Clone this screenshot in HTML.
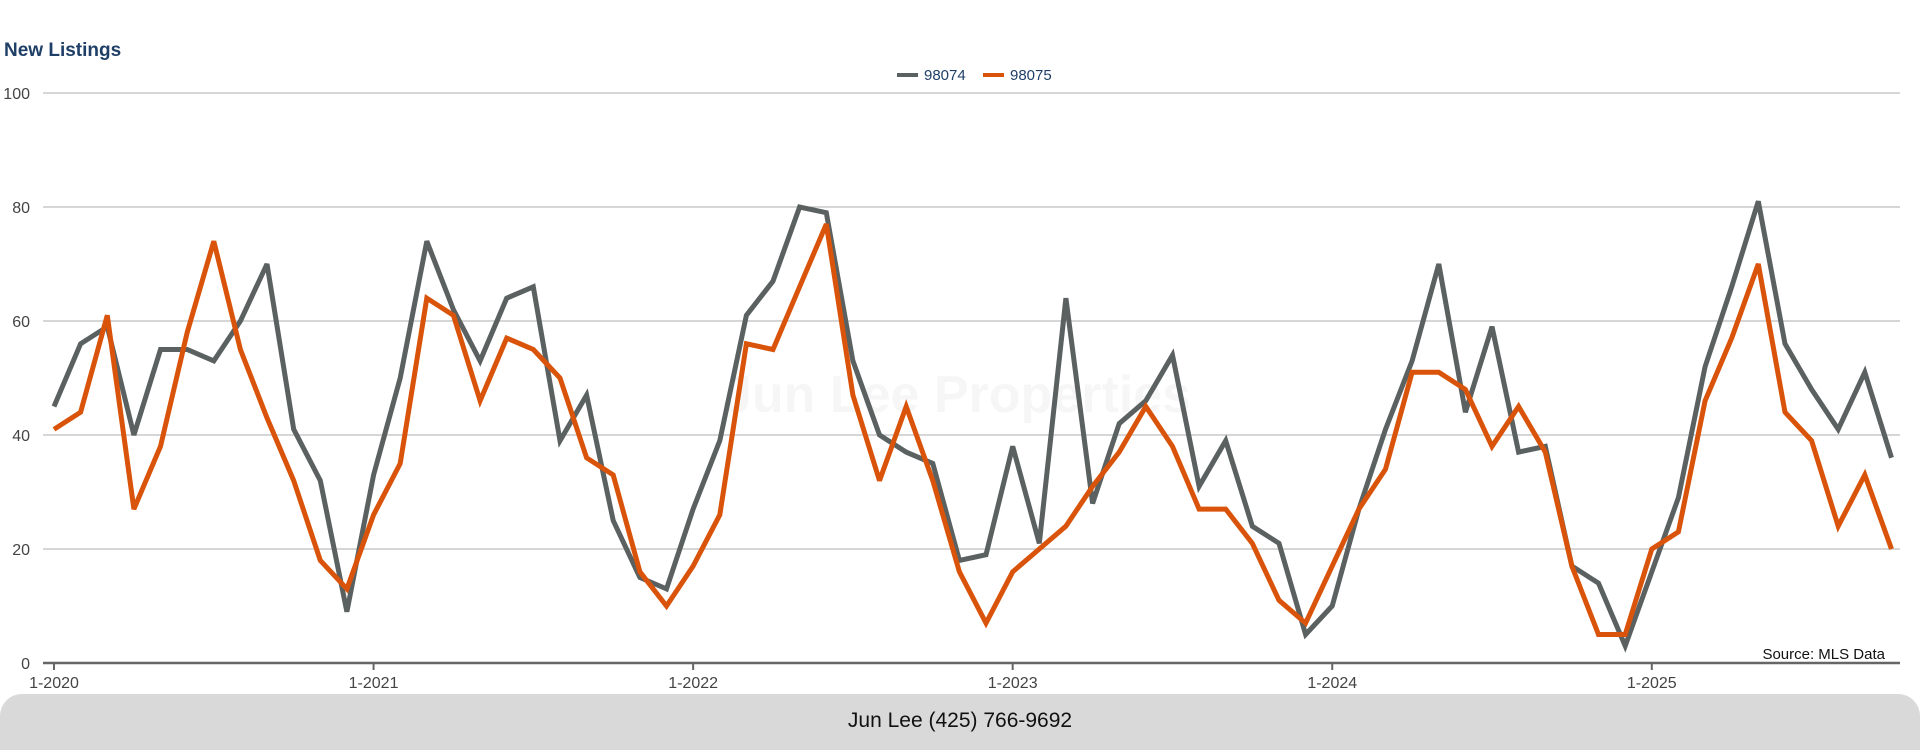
<!DOCTYPE html>
<html><head><meta charset="utf-8"><style>
html,body{margin:0;padding:0;background:#fff;width:1920px;height:750px;overflow:hidden;font-family:"Liberation Sans",sans-serif}
</style></head><body>
<svg id="chart" width="1920" height="750" xmlns="http://www.w3.org/2000/svg" style="position:absolute;left:0;top:0">
<text x="4" y="56" font-size="19" font-weight="bold" fill="#1f3f66">New Listings</text>
<text x="957" y="412" font-size="52" font-weight="bold" fill="#000" fill-opacity="0.035" text-anchor="middle">Jun Lee Properties</text>
<g id="grid"></g><g id="series"></g>
<g>
<line x1="897" y1="75" x2="918" y2="75" stroke="#5a6160" stroke-width="4"/>
<text x="924" y="80" font-size="15" fill="#1f3f66">98074</text>
<line x1="983" y1="75" x2="1004" y2="75" stroke="#d9540a" stroke-width="4"/>
<text x="1010" y="80" font-size="15" fill="#1f3f66">98075</text>
</g>
<text x="1885" y="659" font-size="15" fill="#111" text-anchor="end">Source: MLS Data</text>
<rect x="0" y="694" width="1920" height="80" rx="22" fill="#d9d9d9"/>
<text x="960" y="727" font-size="21" fill="#111" text-anchor="middle">Jun Lee (425) 766-9692</text>
</svg>
<script>
const yTicks=[0,20,40,60,80,100];
const xTickLabels=["1-2020","1-2021","1-2022","1-2023","1-2024","1-2025"];
const s98074=[45,56,59,40,55,55,53,60,70,41,32,9,
33,50,74,62,53,64,66,39,47,25,15,13,
27,39,61,67,80,79,53,40,37,35,18,19,
38,21,64,28,42,46,54,31,39,24,21,5,
10,27,41,53,70,44,59,37,38,17,14,3,
16,29,52,66,81,56,48,41,51,36];
const s98075=[41,44,61,27,38,58,74,55,43,32,18,13,
26,35,64,61,46,57,55,50,36,33,16,10,
17,26,56,55,66,77,47,32,45,32,16,7,
16,20,24,31,37,45,38,27,27,21,11,7,
17,27,34,51,51,48,38,45,37,17,5,5,
20,23,46,57,70,44,39,24,33,20];
const NS="http://www.w3.org/2000/svg";
const xS=m=>54+m*26.63;
const yS=v=>663-v*5.7;
const grid=document.getElementById('grid'),ser=document.getElementById('series');
function mk(tag,attrs,parent){const e=document.createElementNS(NS,tag);for(const k in attrs)e.setAttribute(k,attrs[k]);parent.appendChild(e);return e;}
yTicks.forEach(v=>{
  if(v>0){const l=mk('line',{x1:43,x2:1900,y1:yS(v),y2:yS(v),stroke:'#bdbdbd','stroke-width':1.3},grid);
  
  }
  const t=mk('text',{x:30,y:yS(v)+6,'font-size':16,fill:'#444','text-anchor':'end'},grid);t.textContent=v;
  
  
});
const ax=mk('line',{x1:43,x2:1900,y1:663,y2:663,stroke:'#666','stroke-width':2.5},grid);


xTickLabels.forEach((lab,i)=>{
  const x=xS(i*12);
  const tk=mk('line',{x1:x,x2:x,y1:663,y2:670,stroke:'#666','stroke-width':2},grid);
  
  
  const t=mk('text',{x:x,y:688,'font-size':16,fill:'#444','text-anchor':'middle'},grid);t.textContent=lab;
  
  
});
[[s98074,'#5a6160','line-98074'],[s98075,'#d9540a','line-98075']].forEach(([d,c,n])=>{
  const p=mk('polyline',{points:d.map((v,i)=>xS(i).toFixed(1)+','+yS(v).toFixed(1)).join(' '),fill:'none',stroke:c,'stroke-width':5,'stroke-linejoin':'miter','stroke-miterlimit':3},ser);
  
  
});
</script>
</body></html>
